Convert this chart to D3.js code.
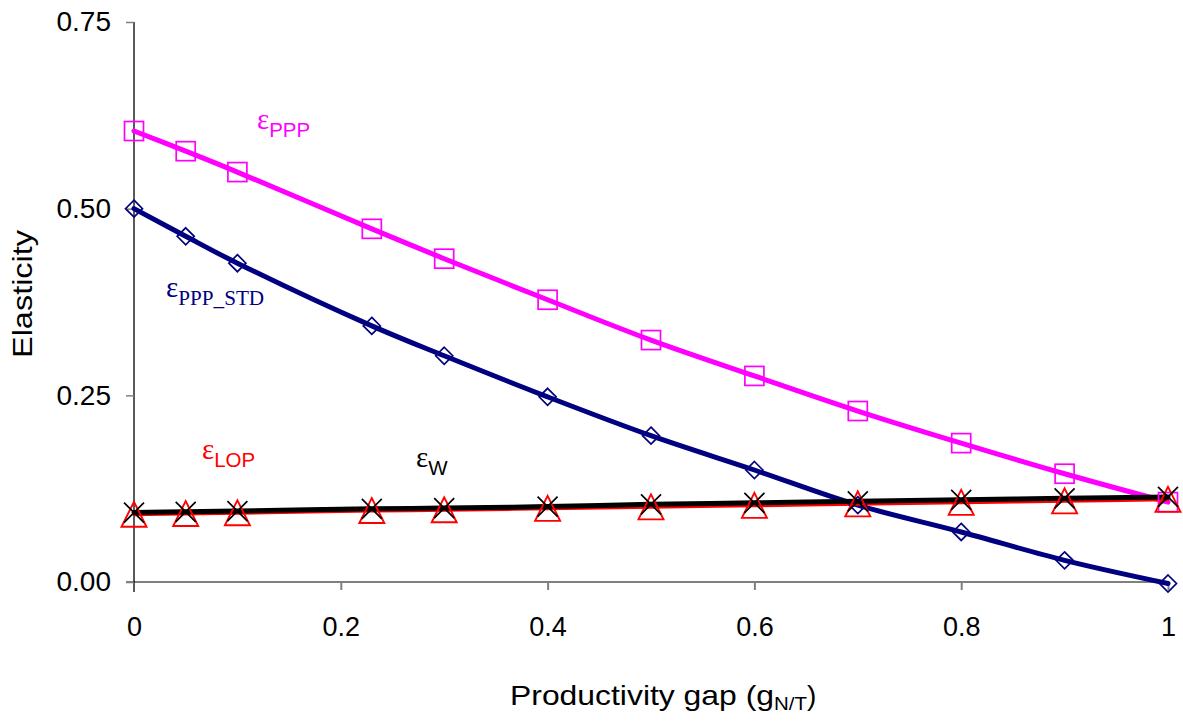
<!DOCTYPE html>
<html><head><meta charset="utf-8">
<script src="https://cdn.jsdelivr.net/npm/d3@7"></script>
<style>body{margin:0;background:#fff}svg{display:block}</style>
</head><body>
<svg id="c" width="1183" height="721"></svg>
<script>
const gaps = [0, 0.05, 0.1, 0.23, 0.3, 0.4, 0.5, 0.6, 0.7, 0.8, 0.9, 1];
const ePPP = [0.604, 0.577, 0.549, 0.473, 0.433, 0.378, 0.324, 0.276, 0.229, 0.186, 0.145, 0.107];
const ePPP_STD = [0.500, 0.463, 0.427, 0.343, 0.303, 0.248, 0.196, 0.150, 0.103, 0.067, 0.029, -0.002];
const eLOP = [0.090, 0.091, 0.092, 0.095, 0.096, 0.098, 0.100, 0.102, 0.104, 0.106, 0.108, 0.110];
const eW = [0.093, 0.094, 0.095, 0.098, 0.099, 0.101, 0.104, 0.106, 0.108, 0.110, 0.112, 0.114];
const xTicks = [0, 0.2, 0.4, 0.6, 0.8, 1];
const yTicks = [0, 0.25, 0.5, 0.75];

const svg = d3.select("#c");
const x = d3.scaleLinear().domain([0, 1]).range([134, 1168]);
const y = d3.scaleLinear().domain([0, 0.75]).range([582, 22]);
const font = "'Liberation Sans', Arial, sans-serif";
const serif = "'Liberation Serif', 'Times New Roman', serif";

// axes
const xa = svg.append("g").attr("transform", "translate(0,582)")
  .call(d3.axisBottom(x).tickValues(xTicks).tickSize(8).tickPadding(27).tickFormat(d => String(d)));
xa.select(".domain").attr("stroke", "#808080").attr("stroke-width", 2).attr("d", "M126,0H1168");
xa.selectAll(".tick line").attr("stroke", "#808080").attr("stroke-width", 2);
xa.selectAll(".tick").filter(d => d === 0).select("line").remove();
xa.selectAll("text").style("font-family", font).style("font-size", "27px").attr("fill", "#000");

const ya = svg.append("g").attr("transform", "translate(134,0)")
  .call(d3.axisLeft(y).tickValues(yTicks).tickSize(8).tickPadding(15).tickFormat(d3.format(".2f")));
ya.select(".domain").attr("stroke", "#000").attr("stroke-width", 1.3).attr("d", "M0,22V592");
ya.selectAll(".tick line").attr("stroke", "#808080").attr("stroke-width", 1.5);
ya.selectAll("text").style("font-family", font).style("font-size", "28px").attr("fill", "#000");

// titles
svg.append("text").attr("transform", "translate(32,294) rotate(-90)").attr("text-anchor", "middle")
  .style("font-family", font).style("font-size", "28px")
  .attr("textLength", 128).attr("lengthAdjust", "spacingAndGlyphs").text("Elasticity");
const xt = svg.append("text").attr("x", 510).attr("y", 705)
  .style("font-family", font).style("font-size", "28px");
xt.append("tspan").attr("textLength", 264).attr("lengthAdjust", "spacingAndGlyphs").text("Productivity gap (g");
xt.append("tspan").style("font-size", "19px").attr("dy", 5).attr("textLength", 33).attr("lengthAdjust", "spacingAndGlyphs").text("N/T");
xt.append("tspan").attr("dy", -5).text(")");

const line = d3.line().x((d, i) => x(gaps[i])).y(d => y(d)).curve(d3.curveCatmullRom);
const plot = svg.append("g");

function drawLine(data, color, w) {
  plot.append("path").attr("d", line(data)).attr("fill", "none").attr("stroke", color)
    .attr("stroke-width", w).attr("stroke-linecap", "round");
}
drawLine(ePPP, "#ff00ff", 5);
drawLine(ePPP_STD, "#000080", 5);
drawLine(eLOP, "#ff0000", 3);
drawLine(eW, "#000000", 5);

// markers
plot.append("g").selectAll("rect").data(ePPP).join("rect")
  .attr("x", (d, i) => x(gaps[i]) - 9.5).attr("y", d => y(d) - 9.5).attr("width", 19).attr("height", 19)
  .attr("fill", "none").attr("stroke", "#ff00ff").attr("stroke-width", 1.7);
plot.append("g").selectAll("path").data(ePPP_STD).join("path")
  .attr("d", (d, i) => { const cx = x(gaps[i]), cy = y(d); return `M${cx},${cy-8.5}L${cx+8.5},${cy}L${cx},${cy+8.5}L${cx-8.5},${cy}Z`; })
  .attr("fill", "none").attr("stroke", "#000080").attr("stroke-width", 1.7);
plot.append("g").selectAll("path").data(eLOP).join("path")
  .attr("d", (d, i) => { const cx = x(gaps[i]), cy = y(d); return `M${cx},${cy-13}L${cx+12.5},${cy+12}L${cx-12.5},${cy+12}Z`; })
  .attr("fill", "none").attr("stroke", "#ff0000").attr("stroke-width", 1.9);
plot.append("g").selectAll("path").data(eW).join("path")
  .attr("d", (d, i) => { const cx = x(gaps[i]), cy = y(d); return `M${cx-10},${cy-10}L${cx+10},${cy+10}M${cx+10},${cy-10}L${cx-10},${cy+10}`; })
  .attr("fill", "none").attr("stroke", "#000").attr("stroke-width", 1.7);

// series labels
function label(xp, yp, color, sub, ff, subSize, subLen) {
  const t = svg.append("text").attr("x", xp).attr("y", yp).attr("fill", color)
    .style("font-size", "29px").style("font-family", serif);
  t.append("tspan").text("ε");
  const s = t.append("tspan").style("font-family", ff).style("font-size", subSize + "px").attr("dy", 8).text(sub);
  if (subLen) s.attr("textLength", subLen).attr("lengthAdjust", "spacingAndGlyphs");
}
label(257, 129, "#ff00ff", "PPP", font, 20.5, 41);
label(166, 297, "#000080", "PPP_STD", serif, 21, 86);
label(202, 459, "#ff0000", "LOP", font, 20.5, 41);
label(416, 467, "#000", "W", font, 20.5, null);
</script>
</body></html>
